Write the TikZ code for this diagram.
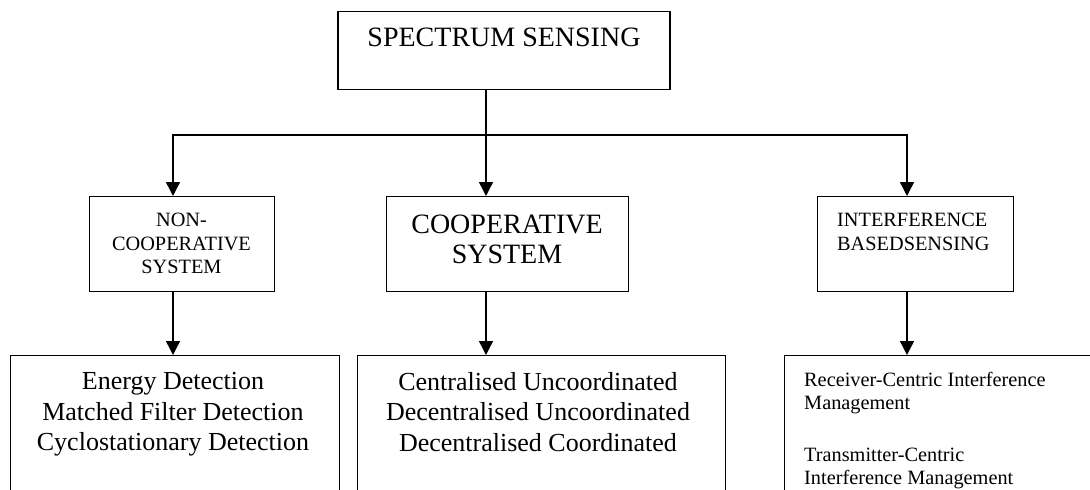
\documentclass[tikz,border=0pt]{standalone}
\usepackage{fontspec}
\setmainfont{Liberation Serif}
\usetikzlibrary{arrows.meta,calc}
\begin{document}
\begin{tikzpicture}[x=1pt,y=-1pt,
  box/.style={draw, line width=1.4pt, inner sep=0pt},
  arr/.style={line width=1.4pt, -{Triangle[width=14pt,length=14pt]}},
  txt/.style={inner sep=0pt, align=center},
  big/.style={font=\fontsize{28}{30}\selectfont},
  mid/.style={font=\fontsize{26}{30.7}\selectfont},
  small/.style={font=\fontsize{20.3}{23.5}\selectfont}]
\useasboundingbox (0,0) rectangle (1090,490);
\clip (0,0) rectangle (1090,490);

% top
\node[box, big, minimum width=332pt, text height=35pt, text depth=43pt, anchor=north] (top) at (504,11) {SPECTRUM SENSING};

% second row
\node[box, minimum width=185pt, minimum height=95pt, anchor=north west] (ncs) at (89,196) {};
\node[txt, small, anchor=north] (ncst) at (181.5,213) {NON-\\COOPERATIVE\\SYSTEM};

\node[box, minimum width=242pt, minimum height=95pt, anchor=north west] (coop) at (386,196) {};
\node[txt, big, anchor=north] (coopt) at (507,215) {COOPERATIVE\\SYSTEM};

\node[box, minimum width=196pt, minimum height=95pt, anchor=north west] (intf) at (817,196) {};
\node[txt, small, align=left, anchor=north west] (intft) at (837,213) {INTERFERENCE\\BASEDSENSING};

% bottom row
\node[box, minimum width=329pt, minimum height=200pt, anchor=north west] (b1) at (10,355) {};
\node[txt, mid, anchor=north] (b1t) at (173,372) {Energy Detection\\Matched Filter Detection\\Cyclostationary Detection};

\node[box, minimum width=368pt, minimum height=200pt, anchor=north west] (b2) at (357,355) {};
\node[txt, mid, anchor=north] (b2t) at (538,372) {Centralised Uncoordinated\\Decentralised Uncoordinated\\Decentralised Coordinated};

\node[box, minimum width=340pt, minimum height=200pt, anchor=north west] (b3) at (784,355) {};
\node[txt, small, align=left, anchor=north west] (b3t) at (804,372) {Receiver-Centric Interference\\Management\\[28pt]Transmitter-Centric\\Interference Management};

% connectors
\coordinate (jm) at (486,135);
\coordinate (jl) at (173,135);
\coordinate (jr) at (907,135);
\draw[arr] (top.south -| jm) -- (coop.north -| jm);
\draw[arr] (jm) -| (ncs.north -| jl);
\draw[arr] (jm) -| (intf.north -| jr);
\draw[arr] (ncs.south -| jl) -- (b1.north -| jl);
\draw[arr] (coop.south -| jm) -- (b2.north -| jm);
\draw[arr] (intf.south -| jr) -- (b3.north -| jr);
\end{tikzpicture}
\end{document}
